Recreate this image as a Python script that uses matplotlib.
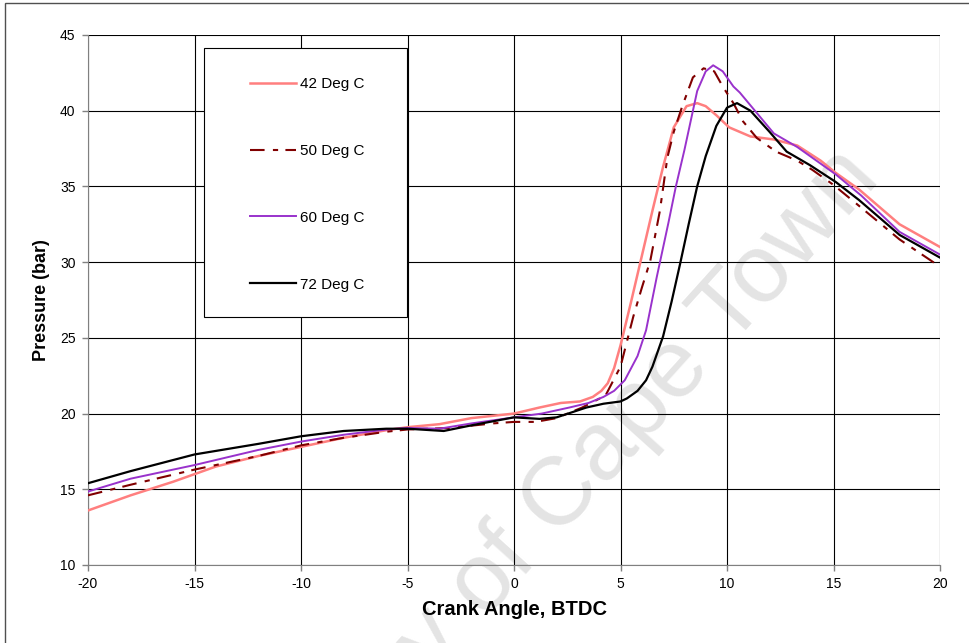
import matplotlib
matplotlib.use('Agg')
import matplotlib.pyplot as plt
from matplotlib.patches import Rectangle

plt.rcParams['font.family'] = ['Liberation Sans', 'DejaVu Sans']
plt.rcParams['axes.unicode_minus'] = False

# crank angle / pressure
x42 = [-20, -18, -16, -15, -14, -12, -10, -8, -6, -5, -3.5, -2, 0, 1.2, 2.2, 3.1, 3.7, 4.1,
       4.4, 4.7, 5.0, 5.5, 6.0, 6.5, 7.0, 7.5, 8.1, 8.6, 9.0, 9.5, 10.1, 11.1, 12.2, 13.3, 14.4,
       15.1, 16.2, 18.1, 20]
p42 = [13.6, 14.6, 15.5, 16.0, 16.5, 17.2, 17.8, 18.4, 18.9, 19.1, 19.3, 19.7, 20.0, 20.4, 20.7,
       20.8, 21.1, 21.5, 22.0, 23.0, 24.5, 27.4, 30.4, 33.4, 36.3, 38.9, 40.3, 40.5, 40.3, 39.7,
       38.9, 38.3, 38.1, 37.7, 36.7, 35.9, 34.8, 32.5, 31.0]

x50 = [-20, -18, -15, -12, -10, -8, -6, -5, -3, -1, 0, 1, 2, 3.2, 4.3, 5.0, 5.6, 6.0, 6.4,
       6.85, 7.2, 7.5, 7.9, 8.4, 8.9, 9.4, 9.8, 10.3, 10.75, 11.4, 12.3, 13.3, 14.0, 15.0, 16.3,
       18.1, 20]
p50 = [14.6, 15.3, 16.3, 17.2, 17.9, 18.4, 18.8, 18.95, 19.05, 19.35, 19.45, 19.45, 19.7, 20.4,
       21.2, 23.1, 26.4, 28.3, 30.1, 33.4, 36.9, 38.6, 40.3, 42.2, 42.8, 42.6, 41.6, 40.5, 39.3,
       38.2, 37.3, 36.7, 36.1, 35.1, 33.6, 31.5, 29.7]

x60 = [-20, -18, -15, -12, -10, -8, -6, -5, -3.5, -2, 0, 1.3, 2.6, 3.5, 4.2, 4.7, 5.2, 5.8,
       6.2, 6.7, 7.25, 7.6, 8.0, 8.6, 9.0, 9.35, 9.8, 10.3, 10.6, 11.4, 12.2, 13.3, 14.4, 15.1,
       16.3, 18.1, 20]
p60 = [14.85, 15.7, 16.6, 17.6, 18.15, 18.6, 18.95, 19.05, 19.0, 19.35, 19.75, 20.0, 20.4, 20.7,
       21.1, 21.5, 22.2, 23.8, 25.5, 29.0, 32.6, 35.0, 37.4, 41.3, 42.6, 43.0, 42.6, 41.6, 41.2,
       39.85, 38.5, 37.6, 36.5, 35.8, 34.4, 32.0, 30.5]

x72 = [-20, -18, -15, -12, -10, -8, -6, -5, -3.3, -1.9, 0, 1.2, 2, 3.4, 4.2, 5.0, 5.3, 5.8,
       6.2, 6.5, 7.0, 7.4, 7.8, 8.2, 8.6, 9.0, 9.5, 10.0, 10.47, 11.1, 12.0, 12.8, 13.9, 15.1,
       16.2, 18.1, 20]
p72 = [15.4, 16.2, 17.3, 18.0, 18.5, 18.85, 19.0, 19.0, 18.85, 19.25, 19.75, 19.65, 19.75, 20.4,
       20.65, 20.8, 21.0, 21.5, 22.2, 23.1, 25.1, 27.4, 29.9, 32.5, 35.0, 37.0, 39.0, 40.2, 40.5,
       40.0, 38.6, 37.3, 36.4, 35.3, 34.1, 31.8, 30.3]

labels = ['42 Deg C', '50 Deg C', '60 Deg C', '72 Deg C']
xticks = [-20, -15, -10, -5, 0, 5, 10, 15, 20]
yticks = [10, 15, 20, 25, 30, 35, 40, 45]

fig = plt.figure(figsize=(9.69, 6.43), dpi=100)
ax = fig.add_axes([88/969, 1-565/643, (940-88)/969, (565-35)/643])
ax.set_facecolor('none')

ax.plot(x42, p42, color='#FF7F7F', lw=1.8, label=labels[0], zorder=3)
ax.plot(x50, p50, color='#800000', lw=1.5, dashes=(7, 4, 2.5, 3.5), label=labels[1], zorder=3)
ax.plot(x60, p60, color='#9932CC', lw=1.4, label=labels[2], zorder=3)
ax.plot(x72, p72, color='black', lw=1.6, label=labels[3], zorder=3)

ax.set_xlim(-20, 20)
ax.set_ylim(10, 45)
ax.set_xticks(xticks)
ax.set_yticks(yticks)
ax.tick_params(direction='out', length=4, width=1, color='#808080', labelsize=10, pad=5)
ax.grid(True, color='black', lw=0.8)
for s in ['top', 'right']:
    ax.spines[s].set_visible(False)
for s in ['left', 'bottom']:
    ax.spines[s].set_color('#808080')

ax.set_xlabel('Crank Angle, BTDC', fontsize=14.5, fontweight='bold', labelpad=6)
ax.set_ylabel('Pressure (bar)', fontsize=13, fontweight='bold', labelpad=7)

# legend box drawn separately so the padding matches
ax.add_patch(Rectangle(((204-88)/852, 1-(317-35)/530), (407-204)/852, (317-48)/530,
                       transform=ax.transAxes, facecolor='white', edgecolor='black',
                       lw=0.8, zorder=4))
leg = ax.legend(loc='upper left', bbox_to_anchor=((250-88)/852, 1-(77-35)/530),
                borderaxespad=0, borderpad=0, frameon=False, fontsize=11,
                handlelength=3.0, handletextpad=0.25, labelspacing=3.46)
leg.set_zorder(5)

# watermark
ax.text(0.91, 0.72, 'University of Cape Town', transform=fig.transFigure,
        fontsize=70, color='#E4E4E4', rotation=48, rotation_mode='anchor',
        ha='right', va='baseline', zorder=0.5, clip_on=False)

fig.add_artist(Rectangle((5/969, -0.1), 1.1, 1.1 - 3/643, transform=fig.transFigure,
                         fill=False, ec='#505050', lw=1))

fig.savefig('out.png', dpi=100)
